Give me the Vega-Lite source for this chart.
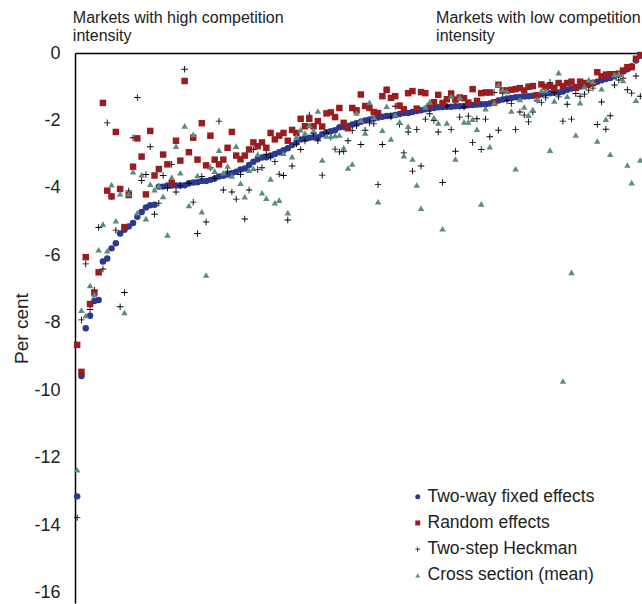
{
  "$schema": "https://vega.github.io/schema/vega-lite/v6.json",
  "width": 567,
  "height": 550,
  "autosize": {"type": "none"},
  "padding": {"left": 75, "top": 53, "right": 0, "bottom": 1},
  "config": {"font": "Liberation Sans", "view": {"stroke": null}},
  "datasets": {
    "names": [
      {"k": "fe", "name": "Two-way fixed effects"},
      {"k": "re", "name": "Random effects"},
      {"k": "hk", "name": "Two-step Heckman"},
      {"k": "cs", "name": "Cross section (mean)"}
    ],
    "d": [
      {"i":0,"fe":-13.14,"re":-8.65,"hk":-13.77,"cs":-12.35},
      {"i":1,"fe":-9.57,"re":-9.45,"hk":-7.91,"cs":-7.62},
      {"i":2,"fe":-8.16,"re":-6.05,"hk":-6.25,"cs":-7.78},
      {"i":3,"fe":-7.79,"re":-7.44,"hk":-7.6,"cs":-6.89},
      {"i":4,"fe":-7.35,"re":-7.10,"hk":-7.03,"cs":-7.16},
      {"i":5,"fe":-7.32,"re":-6.50,"hk":-5.17,"cs":-5.83},
      {"i":6,"fe":-6.18,"re":-1.48,"hk":-6.40,"cs":-5.07},
      {"i":7,"fe":-6.09,"re":-4.08,"hk":-2.07,"cs":-5.86},
      {"i":8,"fe":-5.79,"re":-4.25,"hk":-4.25,"cs":-3.90},
      {"i":9,"fe":-5.64,"re":-2.34,"hk":-5.25,"cs":-4.97},
      {"i":10,"fe":-5.35,"re":-4.03,"hk":-7.52,"cs":-4.17},
      {"i":11,"fe":-5.24,"re":-5.16,"hk":-7.10,"cs":-7.69},
      {"i":12,"fe":-5.14,"re":-4.21,"hk":-4.09,"cs":-4.17},
      {"i":13,"fe":-5.04,"re":-3.37,"hk":-2.51,"cs":-3.52},
      {"i":14,"fe":-4.85,"re":-2.53,"hk":-1.32,"cs":-4.73},
      {"i":15,"fe":-4.71,"re":-3.07,"hk":-3.78,"cs":-3.61},
      {"i":16,"fe":-4.58,"re":-4.19,"hk":-3.6,"cs":-4.91},
      {"i":17,"fe":-4.51,"re":-2.31,"hk":-2.78,"cs":-3.89},
      {"i":18,"fe":-4.50,"re":-3.63,"hk":-4.78,"cs":-4.05},
      {"i":19,"fe":-3.96,"re":-3.44,"hk":-4.45,"cs":-3.93},
      {"i":20,"fe":-3.96,"re":-3.01,"hk":-3.63,"cs":-4.25},
      {"i":21,"fe":-3.93,"re":-3.30,"hk":-4.0,"cs":-5.39},
      {"i":22,"fe":-3.93,"re":-3.86,"hk":-3.30,"cs":-3.68},
      {"i":23,"fe":-3.93,"re":-2.60,"hk":-4.12,"cs":-2.76},
      {"i":24,"fe":-3.93,"re":-3.19,"hk":-3.93,"cs":-3.55},
      {"i":25,"fe":-3.92,"re":-0.83,"hk":-0.48,"cs":-2.16},
      {"i":26,"fe":-3.86,"re":-2.94,"hk":-3.86,"cs":-4.52},
      {"i":27,"fe":-3.84,"re":-2.51,"hk":-4.42,"cs":-2.41},
      {"i":28,"fe":-3.83,"re":-3.16,"hk":-5.35,"cs":-3.63},
      {"i":29,"fe":-3.79,"re":-2.08,"hk":-3.66,"cs":-4.70},
      {"i":30,"fe":-3.79,"re":-3.33,"hk":-5.01,"cs":-6.58},
      {"i":31,"fe":-3.76,"re":-2.45,"hk":-3.4,"cs":-3.38},
      {"i":32,"fe":-3.72,"re":-3.16,"hk":-3.71,"cs":-3.5},
      {"i":33,"fe":-3.66,"re":-3.3,"hk":-2.02,"cs":-2.88},
      {"i":34,"fe":-3.64,"re":-3.16,"hk":-4.06,"cs":-3.55},
      {"i":35,"fe":-3.60,"re":-2.81,"hk":-3.5,"cs":-3.35},
      {"i":36,"fe":-3.56,"re":-2.34,"hk":-4.12,"cs":-3.64},
      {"i":37,"fe":-3.52,"re":-3.04,"hk":-4.33,"cs":-2.76},
      {"i":38,"fe":-3.45,"re":-3.15,"hk":-3.6,"cs":-3.86},
      {"i":39,"fe":-3.42,"re":-3.04,"hk":-4.92,"cs":-4.26},
      {"i":40,"fe":-3.32,"re":-2.86,"hk":-4.06,"cs":-3.47},
      {"i":41,"fe":-3.22,"re":-2.65,"hk":-2.86,"cs":-3.42},
      {"i":42,"fe":-3.15,"re":-2.76,"hk":-3.45,"cs":-3.00},
      {"i":43,"fe":-3.10,"re":-2.65,"hk":-3.4,"cs":-4.14},
      {"i":44,"fe":-3.09,"re":-2.81,"hk":-3.0,"cs":-4.30},
      {"i":45,"fe":-3.04,"re":-2.37,"hk":-3.1,"cs":-3.73},
      {"i":46,"fe":-2.99,"re":-2.56,"hk":-3.22,"cs":-4.44},
      {"i":47,"fe":-2.94,"re":-2.45,"hk":-3.59,"cs":-4.36},
      {"i":48,"fe":-2.88,"re":-2.37,"hk":-3.63,"cs":-2.97},
      {"i":49,"fe":-2.82,"re":-2.60,"hk":-4.95,"cs":-4.73},
      {"i":50,"fe":-2.73,"re":-2.28,"hk":-3.35,"cs":-3.07},
      {"i":51,"fe":-2.65,"re":-2.37,"hk":-2.7,"cs":-2.48},
      {"i":52,"fe":-2.56,"re":-1.95,"hk":-2.86,"cs":-2.27},
      {"i":53,"fe":-2.53,"re":-2.17,"hk":-2.61,"cs":-2.37},
      {"i":54,"fe":-2.51,"re":-1.95,"hk":-1.84,"cs":-2.14},
      {"i":55,"fe":-2.50,"re":-2.17,"hk":-2.38,"cs":-2.29},
      {"i":56,"fe":-2.50,"re":-2.02,"hk":-2.6,"cs":-1.72},
      {"i":57,"fe":-2.41,"re":-2.18,"hk":-3.62,"cs":-3.17},
      {"i":58,"fe":-2.35,"re":-1.79,"hk":-2.38,"cs":-2.46},
      {"i":59,"fe":-2.32,"re":-1.76,"hk":-2.5,"cs":-2.46},
      {"i":60,"fe":-2.29,"re":-1.90,"hk":-2.85,"cs":-2.44},
      {"i":61,"fe":-2.20,"re":-1.63,"hk":-2.93,"cs":-2.43},
      {"i":62,"fe":-2.19,"re":-2.07,"hk":-2.91,"cs":-2.81},
      {"i":63,"fe":-2.16,"re":-2.23,"hk":-2.60,"cs":-3.41},
      {"i":64,"fe":-2.12,"re":-1.63,"hk":-2.3,"cs":-3.29},
      {"i":65,"fe":-2.08,"re":-1.70,"hk":-2.16,"cs":-1.78},
      {"i":66,"fe":-2.04,"re":-1.23,"hk":-2.71,"cs":-1.99},
      {"i":67,"fe":-2.00,"re":-1.57,"hk":-2.29,"cs":-2.37},
      {"i":68,"fe":-1.97,"re":-1.63,"hk":-2.07,"cs":-1.46},
      {"i":69,"fe":-1.94,"re":-1.75,"hk":-2.1,"cs":-1.90},
      {"i":70,"fe":-1.91,"re":-1.78,"hk":-3.90,"cs":-4.41},
      {"i":71,"fe":-1.89,"re":-1.28,"hk":-2.71,"cs":-2.29},
      {"i":72,"fe":-1.87,"re":-1.09,"hk":-1.09,"cs":-1.58},
      {"i":73,"fe":-1.86,"re":-1.33,"hk":-1.9,"cs":-2.55},
      {"i":74,"fe":-1.84,"re":-1.28,"hk":-1.58,"cs":-1.83},
      {"i":75,"fe":-1.81,"re":-1.56,"hk":-2.11,"cs":-2.04},
      {"i":76,"fe":-1.78,"re":-1.67,"hk":-2.96,"cs":-3.04},
      {"i":77,"fe":-1.78,"re":-1.19,"hk":-2.34,"cs":-2.17},
      {"i":78,"fe":-1.75,"re":-1.13,"hk":-3.50,"cs":-3.14},
      {"i":79,"fe":-1.72,"re":-1.65,"hk":-2.27,"cs":-3.91},
      {"i":80,"fe":-1.70,"re":-1.16,"hk":-3.35,"cs":-4.60},
      {"i":81,"fe":-1.67,"re":-1.19,"hk":-1.96,"cs":-1.60},
      {"i":82,"fe":-1.65,"re":-1.58,"hk":-1.8,"cs":-1.45},
      {"i":83,"fe":-1.63,"re":-1.46,"hk":-2.00,"cs":-1.91},
      {"i":84,"fe":-1.61,"re":-1.24,"hk":-2.34,"cs":-2.07},
      {"i":85,"fe":-1.60,"re":-1.48,"hk":-3.84,"cs":-5.21},
      {"i":86,"fe":-1.59,"re":-1.37,"hk":-1.57,"cs":-2.07},
      {"i":87,"fe":-1.59,"re":-1.20,"hk":-2.27,"cs":-1.28},
      {"i":88,"fe":-1.58,"re":-1.38,"hk":-2.91,"cs":-3.14},
      {"i":89,"fe":-1.58,"re":-1.32,"hk":-1.9,"cs":-1.32},
      {"i":90,"fe":-1.57,"re":-1.34,"hk":-1.60,"cs":-2.04},
      {"i":91,"fe":-1.55,"re":-1.47,"hk":-1.87,"cs":-2.04},
      {"i":92,"fe":-1.54,"re":-1.07,"hk":-2.65,"cs":-1.96},
      {"i":93,"fe":-1.53,"re":-1.42,"hk":-1.95,"cs":-2.26},
      {"i":94,"fe":-1.52,"re":-1.19,"hk":-2.86,"cs":-4.47},
      {"i":95,"fe":-1.52,"re":-1.17,"hk":-1.96,"cs":-1.65},
      {"i":96,"fe":-1.50,"re":-1.17,"hk":-2.48,"cs":-2.78},
      {"i":97,"fe":-1.46,"re":-1.47,"hk":-1.17,"cs":-1.47},
      {"i":98,"fe":-1.41,"re":-0.94,"hk":-2.29,"cs":-0.94},
      {"i":99,"fe":-1.38,"re":-1.11,"hk":-1.19,"cs":-1.08},
      {"i":100,"fe":-1.35,"re":-1.11,"hk":-1.42,"cs":-1.14},
      {"i":101,"fe":-1.33,"re":-1.09,"hk":-1.5,"cs":-1.72},
      {"i":102,"fe":-1.31,"re":-1.07,"hk":-2.27,"cs":-3.43},
      {"i":103,"fe":-1.30,"re":-1.04,"hk":-1.75,"cs":-1.38},
      {"i":104,"fe":-1.29,"re":-1.11,"hk":-1.84,"cs":-1.60},
      {"i":105,"fe":-1.28,"re":-1.00,"hk":-2.04,"cs":-1.84},
      {"i":106,"fe":-1.27,"re":-0.98,"hk":-1.75,"cs":-1.67},
      {"i":107,"fe":-1.25,"re":-1.25,"hk":-1.4,"cs":-1.37},
      {"i":108,"fe":-1.22,"re":-0.93,"hk":-1.47,"cs":-1.11},
      {"i":109,"fe":-1.20,"re":-1.00,"hk":-1.33,"cs":-1.11},
      {"i":110,"fe":-1.19,"re":-0.98,"hk":-0.87,"cs":-2.88},
      {"i":111,"fe":-1.18,"re":-1.03,"hk":-1.17,"cs":-1.42},
      {"i":112,"fe":-1.17,"re":-0.89,"hk":-1.3,"cs":-0.58},
      {"i":113,"fe":-1.14,"re":-0.98,"hk":-2.02,"cs":-9.72},
      {"i":114,"fe":-1.09,"re":-0.89,"hk":-1.52,"cs":-1.28},
      {"i":115,"fe":-1.05,"re":-0.85,"hk":-1.96,"cs":-6.50},
      {"i":116,"fe":-1.01,"re":-1.03,"hk":-1.2,"cs":-2.43},
      {"i":117,"fe":-0.99,"re":-0.85,"hk":-1.28,"cs":-1.47},
      {"i":118,"fe":-0.96,"re":-0.89,"hk":-1.22,"cs":-1.00},
      {"i":119,"fe":-0.94,"re":-0.91,"hk":-1.1,"cs":-0.79},
      {"i":120,"fe":-0.89,"re":-0.89,"hk":-1.04,"cs":-0.84},
      {"i":121,"fe":-0.85,"re":-0.57,"hk":-2.12,"cs":-2.61},
      {"i":122,"fe":-0.81,"re":-0.69,"hk":-1.45,"cs":-1.06},
      {"i":123,"fe":-0.77,"re":-0.64,"hk":-2.26,"cs":-1.96},
      {"i":124,"fe":-0.74,"re":-0.63,"hk":-1.86,"cs":-3.00},
      {"i":125,"fe":-0.69,"re":-0.63,"hk":-0.95,"cs":-0.64},
      {"i":126,"fe":-0.63,"re":-0.61,"hk":-0.8,"cs":-0.61},
      {"i":127,"fe":-0.55,"re":-0.52,"hk":-0.75,"cs":-0.81},
      {"i":128,"fe":-0.48,"re":-0.42,"hk":-1.09,"cs":-3.32},
      {"i":129,"fe":-0.39,"re":-0.42,"hk":-1.19,"cs":-3.84},
      {"i":130,"fe":-0.22,"re":-0.17,"hk":-0.68,"cs":-1.40},
      {"i":131,"fe":-0.08,"re":-0.06,"hk":-1.28,"cs":-3.17}
    ]
  },
  "layer": [
    {
      "data": {"name": "d"},
      "transform": [
        {"fold": ["fe", "re", "hk", "cs"], "as": ["k", "value"]},
        {"lookup": "k", "from": {"data": {"name": "names"}, "key": "k", "fields": ["name"]}}
      ],
      "mark": {"type": "point", "filled": true, "opacity": 1, "size": 42, "clip": false},
      "encoding": {
        "x": {
          "field": "i", "type": "quantitative",
          "scale": {"domain": [-0.5, 131.4], "nice": false, "zero": false},
          "axis": {"orient": "top", "labels": false, "ticks": false, "grid": false, "title": null, "domainColor": "#000", "domainWidth": 1.5}
        },
        "y": {
          "field": "value", "type": "quantitative",
          "scale": {"domain": [-16.3, 0], "nice": false, "zero": false},
          "axis": {
            "values": [0, -2, -4, -6, -8, -10, -12, -14, -16],
            "labelExpr": "'' + datum.value",
            "ticks": false, "grid": false, "domainColor": "#000", "domainWidth": 1.5,
            "labelFontSize": 18, "labelPadding": 15, "labelColor": "#222",
            "title": "Per cent", "titleFontSize": 19, "titleFontWeight": "normal", "titleColor": "#222", "titlePadding": 2
          }
        },
        "color": {
          "field": "name", "type": "nominal",
          "scale": {
            "domain": ["Two-way fixed effects", "Random effects", "Two-step Heckman", "Cross section (mean)"],
            "range": ["#2B3990", "#9B1C1F", "#000000", "#5C8C7C"]
          },
          "legend": {
            "orient": "none", "legendX": 334, "legendY": 435, "title": null,
            "labelFontSize": 17.5, "labelColor": "#222", "labelLimit": 400, "symbolSize": 25, "labelOffset": 1, "rowPadding": 7.2,
            "symbolOpacity": 1
          }
        },
        "shape": {
          "field": "name", "type": "nominal",
          "scale": {
            "domain": ["Two-way fixed effects", "Random effects", "Two-step Heckman", "Cross section (mean)"],
            "range": ["circle", "square", "M-1,-0.14H-0.14V-1H0.14V-0.14H1V0.14H0.14V1H-0.14V0.14H-1Z", "triangle-up"]
          }
        },
        "order": {"field": "name", "sort": "descending"}
      }
    },
    {
      "data": {"values": [{}]},
      "mark": {"type": "text", "text": ["Markets with high competition", "intensity"], "align": "left", "baseline": "alphabetic", "fontSize": 16, "lineHeight": 18, "color": "#222"},
      "encoding": {"x": {"datum": -1.0}, "y": {"datum": 0.9}}
    },
    {
      "data": {"values": [{}]},
      "mark": {"type": "text", "text": ["Markets with low competition", "intensity"], "align": "left", "baseline": "alphabetic", "fontSize": 16, "lineHeight": 18, "color": "#222"},
      "encoding": {"x": {"datum": 83.5}, "y": {"datum": 0.9}}
    }
  ]
}
